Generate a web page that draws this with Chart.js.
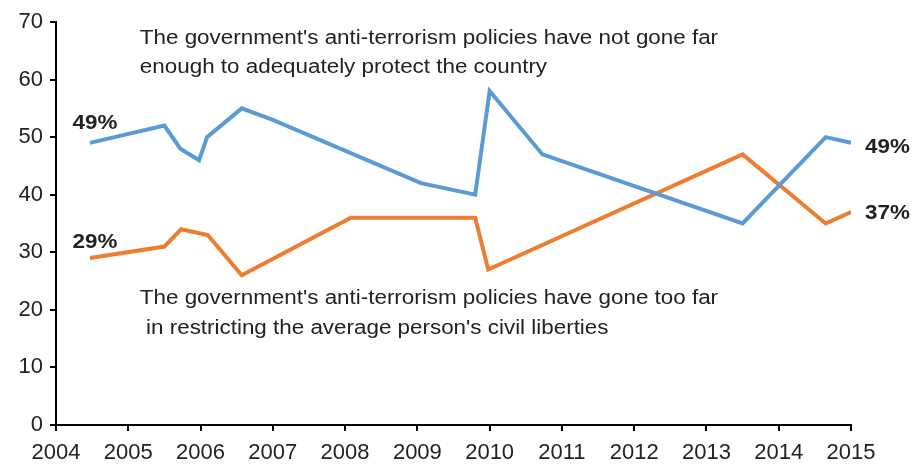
<!DOCTYPE html>
<html>
<head>
<meta charset="utf-8">
<script src="https://cdn.jsdelivr.net/npm/chart.js@4/dist/chart.umd.min.js"></script>
<style>
  html, body { margin: 0; padding: 0; background: #fff; }
  #wrap { width: 914px; height: 464px; }
</style>
</head>
<body>
<div id="wrap"><canvas id="chart" width="914" height="464"></canvas></div>
<script>
// Werte (Jahr als Dezimalzahl, Prozent)
const notFarX = [2004.47, 2005.5, 2005.72, 2005.98, 2006.09, 2006.57, 2007.0, 2009.05, 2009.8, 2010.0, 2010.73, 2013.5, 2014.65, 2015.0];
const notFarY = [49, 52, 48, 46, 50, 55, 53, 42, 40, 58, 47, 35, 50, 49];

const tooFarX = [2004.47, 2005.5, 2005.73, 2006.1, 2006.57, 2008.08, 2009.8, 2009.98, 2013.5, 2014.65, 2015.0];
const tooFarY = [29, 31, 34, 33, 26, 36, 36, 27, 47, 35, 37];

const notFarText = ["The government's anti-terrorism policies have not gone far", "enough to adequately protect the country"];
const tooFarText = ["The government's anti-terrorism policies have gone too far", " in restricting the average person's civil liberties"];

const xMin = 2004, xMax = 2015;
const yMin = 0, yMax = 70;

const FONT = '"Liberation Sans", Arial, sans-serif';
const BLUE = '#5b9bd5';
const ORANGE = '#ed7d31';
const STRETCH = 1.12; // Schrift im Original ist etwas breiter

const toPts = (xs, ys) => xs.map((x, i) => ({ x: x, y: ys[i] }));

// Text horizontal gestreckt zeichnen
function wideText(ctx, text, px, py, align) {
  ctx.save();
  ctx.translate(px, py);
  ctx.scale(STRETCH, 1);
  ctx.textAlign = align;
  ctx.fillText(text, 0, 0);
  ctx.restore();
}

// Beschriftungen im Diagramm (Texte + Prozentwerte an Anfang/Ende)
const labelPlugin = {
  id: 'labels',
  afterDatasetsDraw(chart) {
    const { ctx, scales: { x, y } } = chart;
    ctx.save();
    ctx.fillStyle = '#222';
    ctx.textBaseline = 'middle';

    // Texte
    ctx.font = '20px ' + FONT;
    notFarText.forEach((t, i) => {
      wideText(ctx, t, x.getPixelForValue(2005.16), y.getPixelForValue(67.2 - i * 5.1), 'left');
    });
    tooFarText.forEach((t, i) => {
      wideText(ctx, t, x.getPixelForValue(2005.16), y.getPixelForValue(22 - i * 5.2), 'left');
    });

    // Start- und Endwerte
    ctx.font = 'bold 20px ' + FONT;
    const n1 = notFarY.length - 1, n2 = tooFarY.length - 1;
    wideText(ctx, notFarY[0] + '%', x.getPixelForValue(notFarX[0]) + 5, y.getPixelForValue(notFarY[0]) - 19, 'center');
    wideText(ctx, tooFarY[0] + '%', x.getPixelForValue(tooFarX[0]) + 5, y.getPixelForValue(tooFarY[0]) - 16, 'center');
    wideText(ctx, notFarY[n1] + '%', x.getPixelForValue(notFarX[n1]) + 14, y.getPixelForValue(notFarY[n1]) + 5, 'left');
    wideText(ctx, tooFarY[n2] + '%', x.getPixelForValue(tooFarX[n2]) + 14, y.getPixelForValue(tooFarY[n2]) + 1, 'left');
    ctx.restore();
  }
};

new Chart(document.getElementById('chart'), {
  type: 'line',
  data: {
    datasets: [
      {
        label: 'not far enough',
        data: toPts(notFarX, notFarY),
        borderColor: BLUE,
        borderWidth: 4,
        pointRadius: 0,
        tension: 0
      },
      {
        label: 'too far',
        data: toPts(tooFarX, tooFarY),
        borderColor: ORANGE,
        borderWidth: 4,
        pointRadius: 0,
        tension: 0
      }
    ]
  },
  options: {
    responsive: false,
    animation: false,
    layout: { padding: { top: 22, right: 63, left: 0, bottom: 0 } },
    plugins: { legend: { display: false }, tooltip: { enabled: false } },
    scales: {
      x: {
        type: 'linear',
        min: xMin,
        max: xMax,
        afterFit: s => { s.height = 39; },
        afterBuildTicks: s => { s.ticks = []; for (let v = xMin; v <= xMax; v++) s.ticks.push({ value: v }); },
        ticks: { color: '#222', font: { family: FONT, size: 22 }, padding: 9, callback: v => String(v), maxRotation: 0 },
        grid: { drawOnChartArea: false, color: '#000', tickLength: 6, lineWidth: 2 },
        border: { color: '#000', width: 2 }
      },
      y: {
        min: yMin,
        max: yMax,
        afterFit: s => { s.width = 56; },
        ticks: { stepSize: 10, color: '#222', font: { family: FONT, size: 22 }, padding: 7 },
        grid: { drawOnChartArea: false, color: '#000', tickLength: 6, lineWidth: 2 },
        border: { color: '#000', width: 2 }
      }
    }
  },
  plugins: [labelPlugin]
});
</script>
</body>
</html>
